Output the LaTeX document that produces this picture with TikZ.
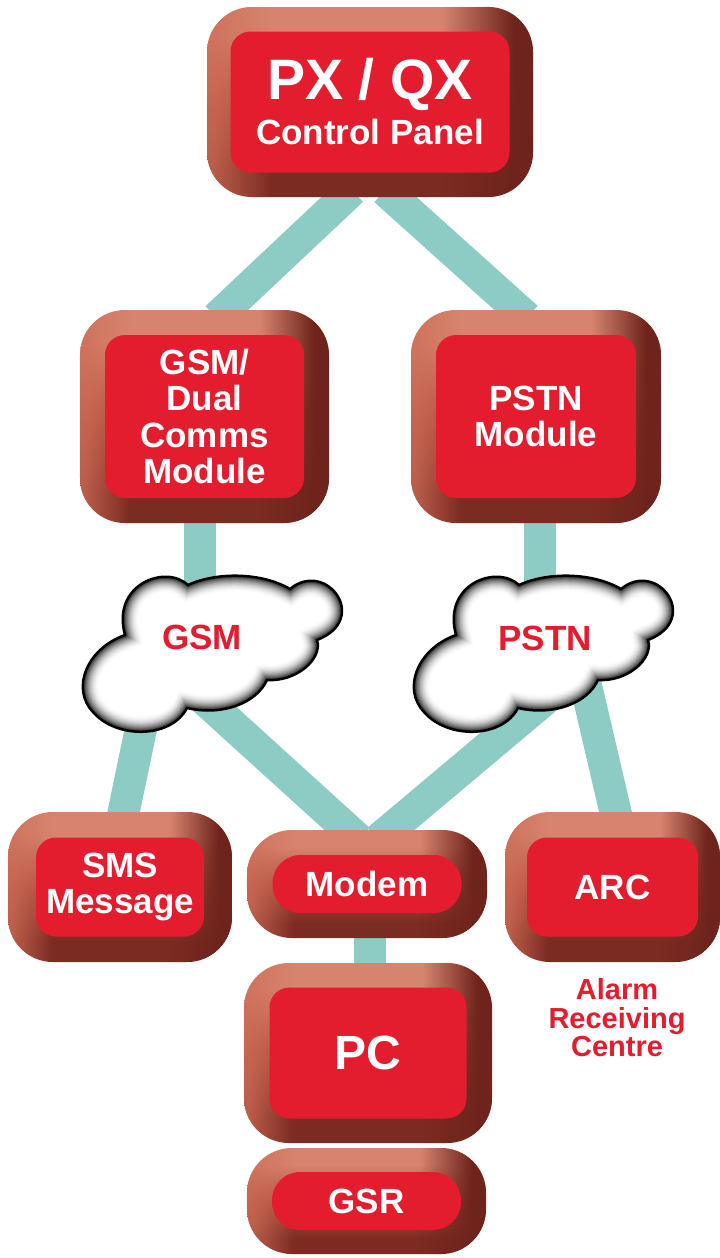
\documentclass[tikz,border=0pt]{standalone}
\usepackage{fontspec}
\setmainfont{Liberation Sans}
\usetikzlibrary{calc,fadings}
\pgfdeclarelayer{background}
\pgfsetlayers{background,main}

\definecolor{keyface}{HTML}{E31D2D}
\definecolor{keytop}{HTML}{D6846F}
\definecolor{keymid}{HTML}{B04E3E}
\definecolor{keyleft}{HTML}{CE6E58}
\definecolor{keybot}{HTML}{7C2B22}
\definecolor{keyright}{HTML}{6E241C}
\definecolor{wire}{HTML}{8DCCC5}

% bevel of a key: light top, dark bottom, light left edge, dark right edge
\pgfdeclareverticalshading{keybevel}{100bp}{color(0bp)=(keybot); color(32bp)=(keybot);
  color(50bp)=(keymid); color(67bp)=(keytop); color(100bp)=(keytop)}
\pgfdeclarehorizontalshading{rightedge}{100bp}{color(0bp)=(pgftransparent!100); color(61bp)=(pgftransparent!100);
  color(72bp)=(pgftransparent!0); color(100bp)=(pgftransparent!0)}
\pgfdeclarefading{darkright}{\pgfuseshading{rightedge}}
\pgfdeclarehorizontalshading{leftedge}{100bp}{color(0bp)=(pgftransparent!25); color(26bp)=(pgftransparent!25);
  color(35bp)=(pgftransparent!100); color(100bp)=(pgftransparent!100)}
\pgfdeclarefading{lightleft}{\pgfuseshading{leftedge}}

% outline of a cloud, centred on (0,0)
\newcommand\cloudpath[1]{\path[#1] (-86,-19) .. controls (-100,-70) and (-45,-90) .. (-23,-69)
  .. controls (5,-82) and (50,-82) .. (79,-65)
  .. controls (115,-95) and (160,-35) .. (106,-14)
  .. controls (112,5) and (85,28) .. (56,26)
  .. controls (45,50) and (10,62) .. (-24,54)
  .. controls (-40,85) and (-95,85) .. (-118,58)
  .. controls (-140,35) and (-125,-5) .. (-86,-19) -- cycle;}

\tikzset{
  shell/.style={rounded corners=45pt, shade, shading=keybevel, inner sep=0pt,
    postaction={fill=keyleft, path fading=lightleft},
    postaction={fill=keyright, path fading=darkright}},
  face/.style={fill=keyface, rounded corners=20pt, text=white, inner sep=0pt, align=center,
    font=\fontsize{35}{36.5}\selectfont\bfseries},
  wirelink/.style={wire, line width=32pt},
  redtext/.style={text=keyface, inner sep=0pt, align=center, font=\fontsize{35}{36.5}\selectfont\bfseries},
  cloud/.pic={
    \cloudpath{fill=white}
    \begin{scope}
      \cloudpath{clip}
      \foreach \i in {1,...,15}
        {\pgfmathsetmacro\g{0.33*\i*\i}
         \cloudpath{draw=black!\g, line width={34-2*\i}}}
    \end{scope}
    \cloudpath{draw=black, line width=2.5pt}
  }
}

\begin{document}
\begin{tikzpicture}[x=1pt, y=-1pt]
  \useasboundingbox (0,0) rectangle (720,1258);

  % key shells
  \foreach \n/\x/\y/\w/\h in {panel/370/102/326/190, gsmmod/204.5/416.5/249/213, pstnmod/536/416.5/250/213,
      sms/120/887/224/150, modem/367/884/240/108, arc/612.5/887/215/150, pc/368/1053/248/180, gsr/366.5/1201/239/106}
    \node[shell, minimum width=\w, minimum height=\h] (\n) at (\x,\y) {};

  % key faces
  \node[face, minimum width=279, minimum height=141, font=\fontsize{35}{45}\selectfont\bfseries] (panel face) at (panel)
    {{\fontsize{57}{45}\selectfont PX / QX}\\Control Panel};
  \node[face, minimum width=199, minimum height=163] (gsmmod face) at (gsmmod) {GSM/\\Dual\\Comms\\Module};
  \node[face, minimum width=200, minimum height=163] (pstnmod face) at (pstnmod) {PSTN\\Module};
  \node[face, minimum width=168, minimum height=99] (sms face) at (sms) {SMS\\Message};
  \node[face, rounded corners=28pt, minimum width=189, minimum height=58] (modem face) at (modem) {Modem};
  \node[face, minimum width=171, minimum height=99] (arc face) at (arc) {ARC};
  \node[face, minimum width=197, minimum height=131, font=\fontsize{48}{48}\selectfont\bfseries] (pc face) at (pc) {PC};
  \node[face, rounded corners=28pt, minimum width=189, minimum height=58] (gsr face) at (gsr) {GSR};

  % clouds
  \coordinate (gsmcloud) at (211,654);
  \coordinate (pstncloud) at (542,654);
  \pic at (gsmcloud) {cloud};
  \pic at (pstncloud) {cloud};
  \node[redtext] (gsm label) at ($(gsmcloud)+(-9,-17)$) {GSM};
  \node[redtext] (pstn label) at ($(pstncloud)+(3,-16)$) {PSTN};
  \node[redtext, font=\fontsize{29}{28.5}\selectfont\bfseries] (arc label) at (617,1018) {Alarm\\Receiving\\Centre};

  % links
  \begin{pgfonlayer}{background}
    \draw[wirelink] ($(panel.south)+(-18,-7)$) -- ($(gsmmod.north)+(12,8)$);
    \draw[wirelink] ($(panel.south)+(15,-7)$) -- ($(pstnmod.north)+(-9,8)$);
    \draw[wirelink] ($(gsmmod.south)+(-4.5,-13)$) -- ($(gsmcloud)+(-11,-34)$);
    \draw[wirelink] ($(pstnmod.south)+(4,-13)$) -- ($(pstncloud)+(-2,-34)$);
    \draw[wirelink] ($(gsmcloud)+(-62,36)$) -- ($(sms.north)+(1,13)$);
    \draw[wirelink] ($(gsmcloud)+(-28,26)$) -- ($(modem.north)+(-8,10)$);
    \draw[wirelink] ($(pstncloud)+(20,31)$) -- ($(modem.north)+(11,10)$);
    \draw[wirelink] ($(pstncloud)+(38,6)$) -- ($(arc.north)+(6,13)$);
    \draw[wirelink] ($(modem)+(3,0)$) -- ($(pc)+(2,0)$);
  \end{pgfonlayer}
\end{tikzpicture}
\end{document}
